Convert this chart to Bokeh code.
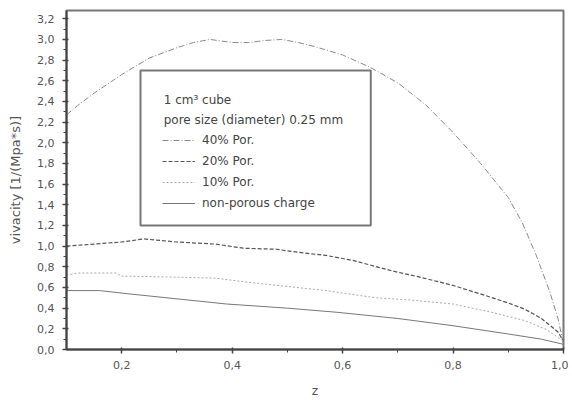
from bokeh.plotting import figure
from bokeh.models import (Range1d, FixedTicker, CustomJSTickFormatter, Legend, LegendItem,
                          BoxAnnotation, Label)
from bokeh.embed import file_html
from bokeh.resources import INLINE

# ---- data ----
z40 = [0.1, 0.12, 0.15, 0.2, 0.25, 0.3, 0.33, 0.36, 0.4, 0.43, 0.46, 0.49, 0.52, 0.55, 0.6,
       0.65, 0.7, 0.75, 0.8, 0.85, 0.9, 0.925, 0.95, 0.975, 0.99, 1.0]
v40 = [2.27, 2.36, 2.48, 2.66, 2.82, 2.92, 2.97, 3.0, 2.97, 2.97, 2.99, 3.0, 2.97, 2.93, 2.85,
       2.73, 2.58, 2.37, 2.1, 1.8, 1.47, 1.23, 0.92, 0.56, 0.3, 0.05]

z20 = [0.1, 0.15, 0.2, 0.24, 0.3, 0.37, 0.42, 0.48, 0.52, 0.57, 0.62, 0.69, 0.74, 0.8, 0.86,
       0.9, 0.93, 0.96, 0.99, 1.0]
v20 = [1.0, 1.02, 1.04, 1.07, 1.04, 1.02, 0.98, 0.97, 0.94, 0.91, 0.86, 0.76, 0.7, 0.62, 0.52,
       0.45, 0.39, 0.3, 0.17, 0.08]

z10 = [0.1, 0.12, 0.19, 0.2, 0.3, 0.37, 0.43, 0.5, 0.57, 0.66, 0.72, 0.8, 0.87, 0.93, 0.97, 1.0]
v10 = [0.72, 0.74, 0.74, 0.71, 0.70, 0.69, 0.65, 0.61, 0.57, 0.50, 0.48, 0.44, 0.36, 0.28, 0.19, 0.08]

znp = [0.1, 0.16, 0.21, 0.3, 0.39, 0.5, 0.59, 0.7, 0.8, 0.9, 0.96, 1.0]
vnp = [0.57, 0.57, 0.54, 0.49, 0.44, 0.40, 0.36, 0.30, 0.23, 0.15, 0.10, 0.05]

series_labels = ["40% Por.", "20% Por.", "10% Por.", "non-porous charge"]
header_lines = ["1 cm\u00b3 cube", "pore size (diameter) 0.25 mm"]

x_ticks = [0.2, 0.4, 0.6, 0.8, 1.0]
x_minor = [0.3, 0.5, 0.7, 0.9]
y_ticks = [0.0, 0.2, 0.4, 0.6, 0.8, 1.0, 1.2, 1.4, 1.6, 1.8, 2.0, 2.2, 2.4, 2.6, 2.8, 3.0, 3.2]
y_minor = [0.1, 0.3, 0.5, 0.7, 0.9, 1.1, 1.3, 1.5, 1.7, 1.9, 2.1, 2.3, 2.5, 2.7, 2.9, 3.1]

FONT = "DejaVu Sans"
TXT = "#555555"

p = figure(width=568, height=402, output_backend="svg", toolbar_location=None,
           x_range=Range1d(0.1, 1.0), y_range=Range1d(0.0, 3.28),
           min_border_left=66, min_border_right=5, min_border_top=10, min_border_bottom=53)
p.grid.visible = False
p.background_fill_color = "white"
p.border_fill_color = "white"
p.outline_line_color = "#777777"
p.outline_line_width = 2

for ax in (p.xaxis[0], p.yaxis[0]):
    ax.axis_line_color = "#444444"
    ax.axis_line_width = 2
    ax.major_tick_line_color = "#444444"
    ax.minor_tick_line_color = "#444444"
    ax.major_tick_line_width = 1.5
    ax.major_tick_out = 4
    ax.major_tick_in = 2
    ax.minor_tick_out = 3
    ax.minor_tick_in = 0
    ax.major_label_text_font = FONT
    ax.major_label_text_font_size = "11px"
    ax.major_label_text_color = TXT
    ax.axis_label_text_font = FONT
    ax.axis_label_text_font_style = "normal"
    ax.axis_label_text_color = TXT
    ax.formatter = CustomJSTickFormatter(code="return tick.toFixed(1).replace('.', ',');")

p.xaxis.ticker = FixedTicker(ticks=x_ticks, minor_ticks=x_minor)
p.yaxis.ticker = FixedTicker(ticks=y_ticks, minor_ticks=y_minor)
p.xaxis.axis_label = "z"
p.yaxis.axis_label = "vivacity [1/(Mpa*s)]"
p.xaxis.axis_label_text_font_size = "12px"
p.yaxis.axis_label_text_font_size = "13px"
p.xaxis.major_label_standoff = 7
p.xaxis.axis_label_standoff = 12
p.yaxis.major_label_standoff = 8
p.yaxis.axis_label_standoff = 11

r40 = p.line(z40, v40, line_color="#8a8a8a", line_width=1, line_dash="6 2 1 2")
r20 = p.line(z20, v20, line_color="#555555", line_width=1.2, line_dash="4 2")
r10 = p.line(z10, v10, line_color="#aaaaaa", line_width=1, line_dash="2 2")
rnp = p.line(znp, vnp, line_color="#777777", line_width=1)

# legend frame and header lines
box = BoxAnnotation(left=0.234, right=0.651, top=2.70, bottom=1.20,
                    fill_color="white", fill_alpha=0.0,
                    line_color="#777777", line_width=2, line_alpha=1)
p.add_layout(box)
for i, txt in enumerate(header_lines):
    p.add_layout(Label(x=0.276, y=2.418 - i * 0.194, text=txt, text_font=FONT,
                       text_font_size="12px", text_color="#444444", text_baseline="middle"))

legend = Legend(items=[LegendItem(label=series_labels[0], renderers=[r40]),
                       LegendItem(label=series_labels[1], renderers=[r20]),
                       LegendItem(label=series_labels[2], renderers=[r10]),
                       LegendItem(label=series_labels[3], renderers=[rnp])],
                location=(96, 136), border_line_alpha=0, background_fill_alpha=0,
                padding=0, margin=0, spacing=1, glyph_width=33, glyph_height=20,
                label_height=20, label_standoff=7, label_text_font=FONT,
                label_text_font_size="12px", label_text_color="#444444")
p.add_layout(legend)

open("out.html", "w").write(file_html(p, INLINE))
